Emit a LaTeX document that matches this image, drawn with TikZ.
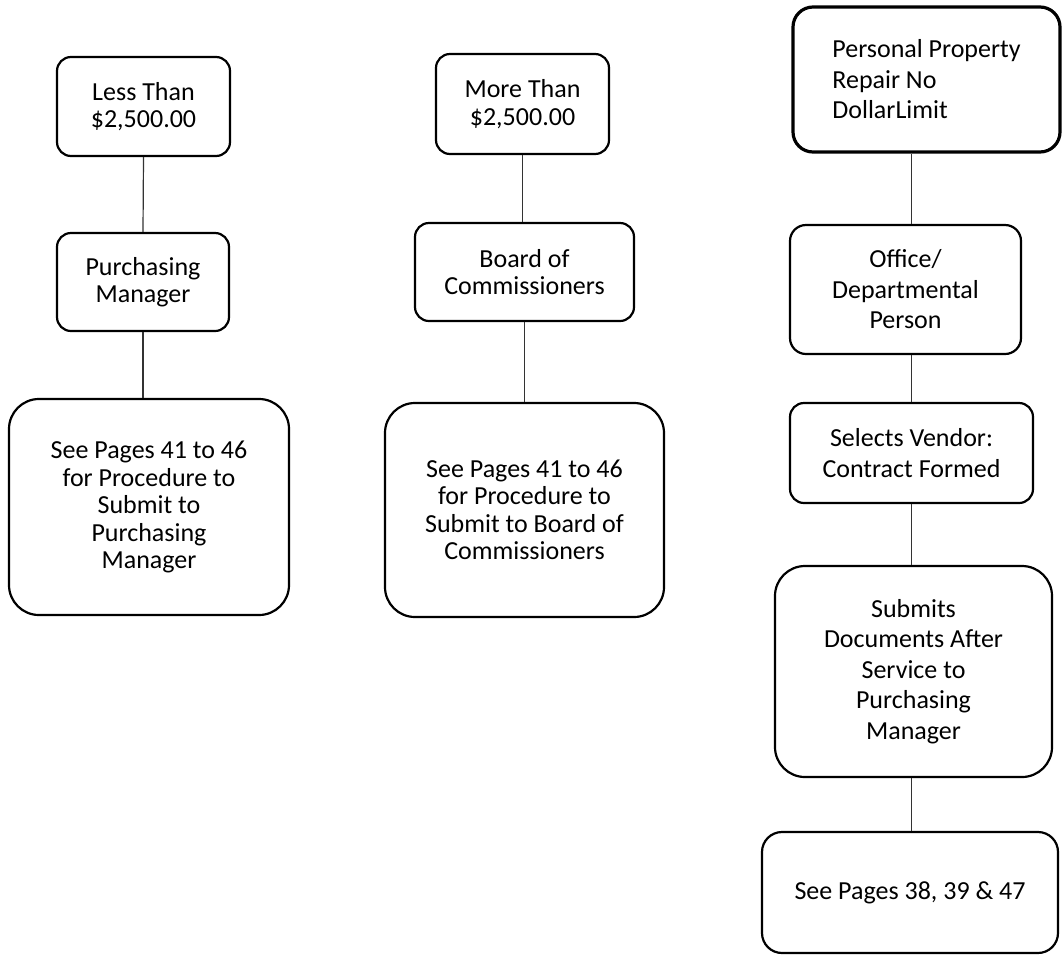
\documentclass[tikz,border=0pt]{standalone}
\usepackage{fontspec}
\setmainfont{Carlito}
\begin{document}
\begin{tikzpicture}[x=1pt,y=-1pt,
  box/.style={draw=black, line width=2.2pt, rounded corners=14pt, align=center, inner sep=0pt,
              font=\fontsize{26}{27.5}\selectfont},
  bigbox/.style={box, rounded corners=30pt},
  wide/.style={font=\fontsize{26}{30.5}\selectfont},
  conn/.style={draw=black!80, line width=1.2pt}]
\useasboundingbox (0,0) rectangle (1063,954);

% column 1
\node[box, minimum width=173pt, minimum height=99pt] (A1) at (143.5,106.5) {Less Than\\\$2,500.00};
\node[box, minimum width=172pt, minimum height=98pt] (A2) at (143,282) {Purchasing\\Manager};
\node[bigbox, minimum width=280pt, minimum height=216pt] (A3) at (149,507)
  {See Pages 41 to 46\\for Procedure to\\Submit to\\Purchasing\\Manager};

% column 2
\node[box, minimum width=173pt, minimum height=100pt] (B1) at (522.5,104) {More Than\\\$2,500.00};
\node[box, minimum width=219pt, minimum height=98pt] (B2) at (524.5,272) {Board of\\Commissioners};
\node[bigbox, minimum width=279pt, minimum height=214pt] (B3) at (524.5,510)
  {See Pages 41 to 46\\for Procedure to\\Submit to Board of\\Commissioners};

% column 3
\node[box, wide, line width=3.2pt, rounded corners=20pt, align=left, minimum width=267pt, minimum height=145pt] (C1) at (926.5,79.5)
  {Personal Property\\Repair No\\DollarLimit};
\node[box, wide, rounded corners=16pt, minimum width=231pt, minimum height=129pt] (C2) at (905.5,289.5)
  {Office/\\Departmental\\Person};
\node[box, wide, minimum width=243pt, minimum height=100pt] (C3) at (911.5,453)
  {Selects Vendor:\\Contract Formed};
\node[bigbox, wide, minimum width=277pt, minimum height=211pt] (C4) at (913.5,671.5)
  {Submits\\Documents After\\Service to\\Purchasing\\Manager};
\node[box, wide, rounded corners=20pt, minimum width=296pt, minimum height=121pt] (C5) at (910,892.5)
  {See Pages 38, 39 \& 47};

% connectors
\draw[conn] (A1.south) -- (A2.north);
\draw[conn] (A2.south) -- (A2.south |- A3.north);
\draw[conn] (B1.south) -- (B1.south |- B2.north);
\draw[conn] (B2.south) -- (B2.south |- B3.north);
\draw[conn] (C3.north |- C1.south) -- (C3.north |- C2.north);
\draw[conn] (C3.north |- C2.south) -- (C3.north);
\draw[conn] (C3.south) -- (C3.south |- C4.north);
\draw[conn] (C3.south |- C4.south) -- (C3.south |- C5.north);
\end{tikzpicture}
\end{document}
